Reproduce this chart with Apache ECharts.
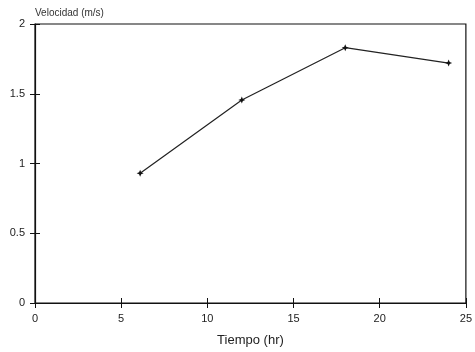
<!DOCTYPE html>
<html><head><meta charset="utf-8">
<script src="https://cdn.jsdelivr.net/npm/echarts@6/dist/echarts.min.js"></script>
<style>html,body{margin:0;padding:0;background:#fff}#c{width:475px;height:352px}</style>
</head><body><div id="c"></div>
<script>
const tiempo = [6.1, 12, 18, 24];
const velocidad = [0.93, 1.455, 1.83, 1.72];
const xTicks = [0, 5, 10, 15, 20, 25];
const yTicks = [0, 0.5, 1, 1.5, 2];
const xName = 'Tiempo (hr)';
const yName = 'Velocidad (m/s)';

const chart = echarts.init(document.getElementById('c'));
const axisCommon = {
  axisLine: {show: true, lineStyle: {color: '#111', width: 1.2}},
  splitLine: {show: false},
  axisLabel: {color: '#222', fontFamily: 'Liberation Sans', fontSize: 11}
};
chart.setOption({
  animation: false,
  backgroundColor: '#fff',
  grid: {left: 35, right: 8, top: 24, bottom: 49, show: true, borderColor: '#111', borderWidth: 1.2},
  xAxis: [{
    type: 'value', min: xTicks[0], max: xTicks[xTicks.length - 1], interval: 5,
    name: xName, nameLocation: 'middle', nameGap: 31,
    nameTextStyle: {color: '#222', fontFamily: 'Liberation Sans', fontSize: 13},
    ...axisCommon,
    axisTick: {show: true, length: 5, inside: false, lineStyle: {color: '#111'}},
    axisLabel: {...axisCommon.axisLabel, margin: 10}
  }, {
    type: 'value', min: xTicks[0], max: xTicks[xTicks.length - 1], interval: 5, position: 'bottom',
    axisLine: {show: false}, splitLine: {show: false}, axisLabel: {show: false},
    axisTick: {show: true, length: 5, inside: true, lineStyle: {color: '#111'}}
  }],
  yAxis: [{
    type: 'value', min: yTicks[0], max: yTicks[yTicks.length - 1], interval: 0.5,
    name: yName, nameLocation: 'end', nameGap: 6,
    nameTextStyle: {color: '#333', fontFamily: 'Liberation Sans', fontSize: 10, align: 'left', padding: [0, 0, 0, 0]},
    ...axisCommon,
    axisTick: {show: true, length: 5, inside: false, lineStyle: {color: '#111'}},
    axisLabel: {...axisCommon.axisLabel, margin: 10}
  }, {
    type: 'value', min: yTicks[0], max: yTicks[yTicks.length - 1], interval: 0.5, position: 'left',
    axisLine: {show: false}, splitLine: {show: false}, axisLabel: {show: false},
    axisTick: {show: true, length: 5, inside: true, lineStyle: {color: '#111'}}
  }],
  series: [{
    type: 'line',
    data: tiempo.map((t, i) => [t, velocidad[i]]),
    symbol: 'path://M0,-5 L1.5,-1.5 L5,0 L1.5,1.5 L0,5 L-1.5,1.5 L-5,0 L-1.5,-1.5 Z',
    symbolSize: 7,
    itemStyle: {color: '#111'},
    lineStyle: {color: '#222', width: 1.2}
  }]
});
</script></body></html>
